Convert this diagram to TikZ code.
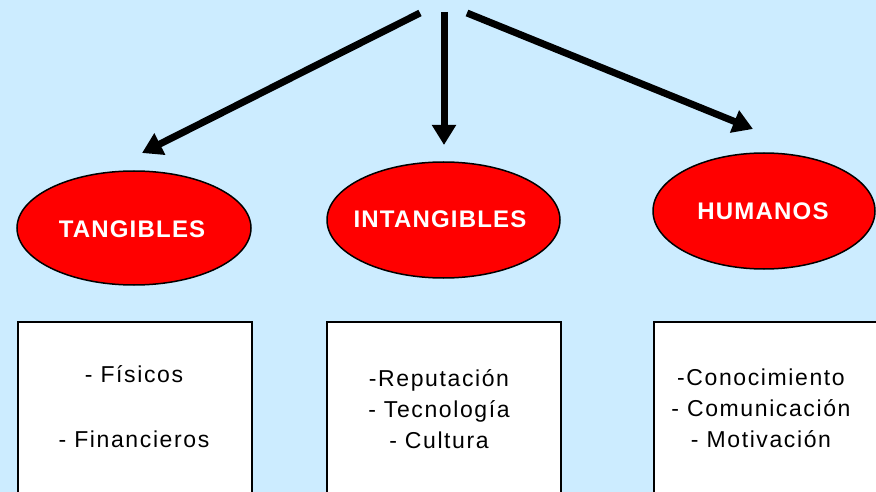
\documentclass[tikz,border=0pt]{standalone}
\usepackage{fontspec}
\setmainfont{Liberation Sans}
\newfontfamily\boxfont[LetterSpace=7]{Liberation Sans}
\newfontfamily\ellfont[LetterSpace=5]{Liberation Sans}
\usetikzlibrary{arrows.meta,shapes.geometric}
\definecolor{bgblue}{HTML}{CCECFF}
\definecolor{ellred}{HTML}{FF0000}
\begin{document}
\begin{tikzpicture}[x=1pt,y=-1pt,
  ell/.style={ellipse, draw=black, line width=1.5pt, fill=ellred, inner sep=0pt},
  elltext/.style={text=white, font=\ellfont\bfseries\fontsize{24}{28}\selectfont, inner sep=0pt},
  box/.style={draw=black, line width=2pt, fill=white, anchor=north west, inner sep=0pt},
  boxtext/.style={font=\boxfont\fontsize{23}{31}\selectfont, align=center, text=black},
  arr/.style={line width=7pt, -{Triangle[length=20pt,width=23pt]}}]
\useasboundingbox (0,0) rectangle (876,492);
\fill[bgblue] (0,0) rectangle (876,492);
\clip (0,0) rectangle (876,492);

% arrows
\coordinate (src1) at (420,13);
\coordinate (dst1) at (142,153);
\coordinate (src2) at (444,12);
\coordinate (dst2) at (444,145);
\coordinate (src3) at (467,13);
\coordinate (dst3) at (753,129);
\draw[arr] (src1) -- (dst1);
\draw[arr] (src2) -- (dst2);
\draw[arr] (src3) -- (dst3);

% ellipses
\node[ell, minimum width=234pt, minimum height=114pt] (eT) at (134,228) {};
\node[ell, minimum width=233pt, minimum height=116pt] (eI) at (443.5,220) {};
\node[ell, minimum width=222pt, minimum height=116pt] (eH) at (764,211) {};
\node[elltext] (lT) at (132,229) {TANGIBLES};
\node[elltext] (lI) at (440,219) {INTANGIBLES};
\node[elltext] (lH) at (763,211) {HUMANOS};

% boxes
\node[box, minimum width=234pt, minimum height=190pt] (bT) at (17,321) {};
\node[box, minimum width=234pt, minimum height=190pt] (bI) at (326,321) {};
\node[box, minimum width=240pt, minimum height=190pt] (bH) at (653,321) {};

\node[boxtext] (tT) at (134,407) {- Físicos\\[34pt]- Financieros};
\node[boxtext] (tI) at (439,409) {-Reputación\\- Tecnología\\- Cultura};
\node[boxtext] (tH) at (761,408) {-Conocimiento\\- Comunicación\\- Motivación};
\end{tikzpicture}
\end{document}
